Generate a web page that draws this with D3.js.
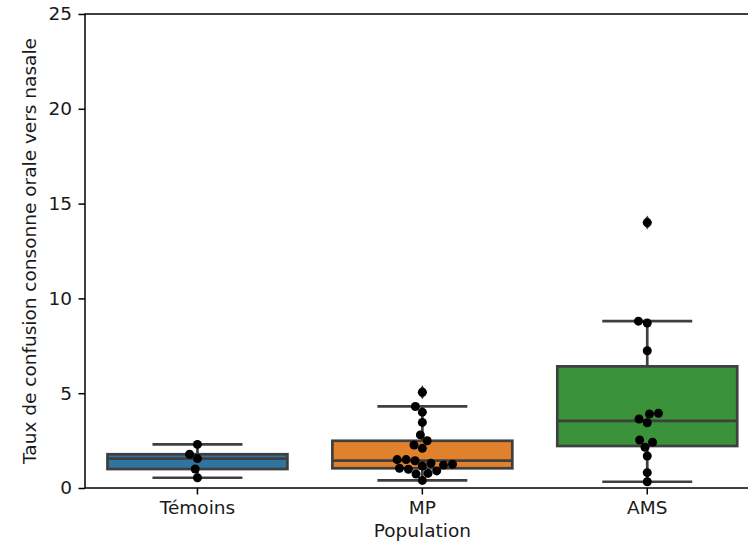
<!DOCTYPE html>
<html>
<head>
<meta charset="utf-8">
<script src="https://cdn.jsdelivr.net/npm/d3@7"></script>
<style>
  body { margin: 0; background: #fff; }
  svg { display: block; font-family: "DejaVu Sans", sans-serif; }
</style>
</head>
<body>
<svg id="chart" width="748" height="544"></svg>
<script>
// Groups and individual observations
const categories = ["Témoins", "MP", "AMS"];
const colors = ["#3274a1", "#e1812c", "#3a923a"];
const temoinsValues = [2.3, 1.78, 1.55, 1.0, 0.54];
const mpValues = [5.05, 4.3, 4.0, 3.46, 2.8, 2.49, 2.27, 2.09, 1.5, 1.5, 1.44,
                  1.3, 1.25, 1.21, 1.16, 1.04, 0.99, 0.9, 0.77, 0.74, 0.4];
const amsValues = [14.0, 8.8, 8.7, 7.24, 3.94, 3.9, 3.64, 3.44, 2.53, 2.41,
                   2.15, 1.69, 0.81, 0.33];
const yTicks = [0, 5, 10, 15, 20, 25];
const seriesValues = [temoinsValues, mpValues, amsValues];

const svg = d3.select("#chart");
const plotLeft = 85, plotRight = 759.7, plotTop = 14, plotBottom = 488;
const fontSize = 18.5;
const textColor = "#1a1a1a";

const x = d3.scaleBand().domain(categories).range([plotLeft, plotRight]).padding(0);
const y = d3.scaleLinear().domain([0, 25]).range([plotBottom, plotTop]);

const lineColor = "#3f3f3f";
const lineW = 2.7;
const boxW = x.bandwidth() * 0.8;
const capW = boxW / 2;
const dotR = 4.5;

// Box statistics (linear-interpolated quartiles, 1.5*IQR whiskers)
function stats(vals) {
  const s = vals.slice().sort(d3.ascending);
  const q1 = d3.quantile(s, 0.25), med = d3.quantile(s, 0.5), q3 = d3.quantile(s, 0.75);
  const iqr = q3 - q1;
  const lo = d3.min(s.filter(v => v >= q1 - 1.5 * iqr));
  const hi = d3.max(s.filter(v => v <= q3 + 1.5 * iqr));
  const fliers = s.filter(v => v < lo || v > hi);
  return { q1, med, q3, lo, hi, fliers };
}

// Beeswarm layout: points are added from lowest to highest value and each one
// takes the free horizontal offset closest to the centre line
function swarm(vals, cx) {
  const pts = vals.slice().sort(d3.ascending).map(v => ({ v, py: y(v) }));
  const placed = [];
  const d = dotR * 2;
  pts.forEach(p => {
    const neighbors = [];
    for (let k = placed.length - 1; k >= 0; k--) {
      if (Math.abs(placed[k].py - p.py) < d) neighbors.push(placed[k]);
      else break;
    }
    const cands = [0];
    let leftFirst = true;
    neighbors.forEach(q => {
      const dy = Math.abs(q.py - p.py);
      const dx = Math.sqrt(d * d - dy * dy) + 0.01;
      if (leftFirst) cands.push(q.dx - dx, q.dx + dx);
      else cands.push(q.dx + dx, q.dx - dx);
      leftFirst = !leftFirst;
    });
    const order = cands.map((c, k) => k).sort((a, b) => Math.abs(cands[a]) - Math.abs(cands[b]) || a - b);
    for (const k of order) {
      const c = cands[k];
      const ok = neighbors.every(q => {
        const ddx = q.dx - c, ddy = q.py - p.py;
        return ddx * ddx + ddy * ddy >= d * d - 0.001;
      });
      if (ok) { p.dx = c; break; }
    }
    placed.push(p);
  });
  return placed.map(p => ({ x: cx + p.dx, y: p.py }));
}

// thin diamond marker for outliers
function thinDiamond(hw, hh) {
  const p = d3.path();
  p.moveTo(0, -hh); p.lineTo(hw, 0); p.lineTo(0, hh); p.lineTo(-hw, 0); p.closePath();
  return p.toString();
}

const g = svg.append("g");

categories.forEach((cat, i) => {
  const st = stats(seriesValues[i]);
  const cx = x(cat) + x.bandwidth() / 2;
  const grp = g.append("g");

  // whiskers
  grp.append("line").attr("x1", cx).attr("x2", cx)
    .attr("y1", y(st.hi)).attr("y2", y(st.q3))
    .attr("stroke", lineColor).attr("stroke-width", lineW);
  grp.append("line").attr("x1", cx).attr("x2", cx)
    .attr("y1", y(st.q1)).attr("y2", y(st.lo))
    .attr("stroke", lineColor).attr("stroke-width", lineW);
  [st.hi, st.lo].forEach(v => {
    grp.append("line").attr("x1", cx - capW / 2).attr("x2", cx + capW / 2)
      .attr("y1", y(v)).attr("y2", y(v))
      .attr("stroke", lineColor).attr("stroke-width", lineW);
  });

  // box
  grp.append("rect")
    .attr("x", cx - boxW / 2).attr("width", boxW)
    .attr("y", y(st.q3)).attr("height", y(st.q1) - y(st.q3))
    .attr("fill", colors[i]).attr("stroke", lineColor).attr("stroke-width", lineW);
  grp.append("line").attr("x1", cx - boxW / 2).attr("x2", cx + boxW / 2)
    .attr("y1", y(st.med)).attr("y2", y(st.med))
    .attr("stroke", lineColor).attr("stroke-width", lineW);

  // outliers
  grp.selectAll("path.flier").data(st.fliers).enter().append("path")
    .attr("class", "flier")
    .attr("d", thinDiamond(4.6, 7))
    .attr("transform", v => `translate(${cx},${y(v)})`)
    .attr("fill", lineColor);

  // individual observations
  grp.selectAll("circle").data(swarm(seriesValues[i], cx)).enter().append("circle")
    .attr("cx", d => d.x).attr("cy", d => d.y).attr("r", dotR)
    .attr("fill", "#000");
});

// axes
const yAxis = d3.axisLeft(y).tickValues(yTicks).tickSize(6.5).tickPadding(6.5);
const yg = svg.append("g").attr("transform", `translate(${plotLeft},0)`).call(yAxis);
const xAxis = d3.axisBottom(x).tickSize(6.5).tickPadding(6.5);
const xg = svg.append("g").attr("transform", `translate(0,${plotBottom})`).call(xAxis);
[yg, xg].forEach(a => {
  a.select(".domain").remove();
  a.selectAll("text").attr("font-size", fontSize).attr("fill", textColor)
    .attr("font-family", "DejaVu Sans, sans-serif");
  a.selectAll("line").attr("stroke", "#000").attr("stroke-width", 1.5);
});

// spines
svg.append("rect").attr("x", plotLeft).attr("y", plotTop)
  .attr("width", plotRight - plotLeft).attr("height", plotBottom - plotTop)
  .attr("fill", "none").attr("stroke", "#000").attr("stroke-width", 1.5);

// axis titles
svg.append("text").attr("x", (plotLeft + plotRight) / 2).attr("y", 537)
  .attr("text-anchor", "middle").attr("font-size", fontSize).attr("fill", textColor)
  .text("Population");
svg.append("text")
  .attr("transform", `translate(36,${(plotTop + plotBottom) / 2}) rotate(-90)`)
  .attr("text-anchor", "middle").attr("font-size", fontSize).attr("fill", textColor)
  .text("Taux de confusion consonne orale vers nasale");
</script>
</body>
</html>
